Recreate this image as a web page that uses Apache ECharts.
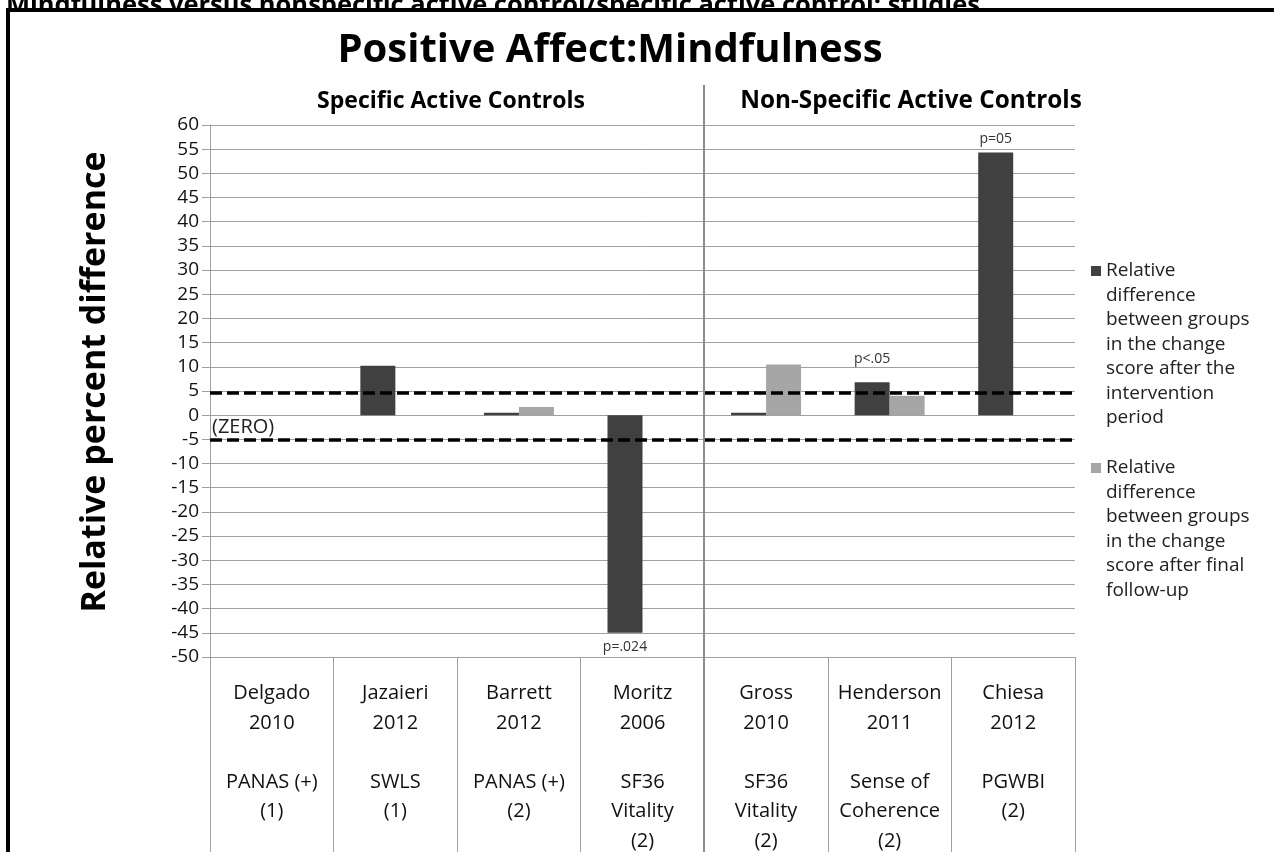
<!DOCTYPE html>
<html>
<head>
<meta charset="utf-8">
<script src="https://cdn.jsdelivr.net/npm/echarts@6/dist/echarts.min.js"></script>
<style>html,body{margin:0;padding:0;background:#fff;}#c{width:1274px;height:852px;}</style>
</head>
<body>
<div id="c"></div>
<script>
const studies = ['Delgado', 'Jazaieri', 'Barrett', 'Moritz', 'Gross', 'Henderson', 'Chiesa'];
const years = ['2010', '2012', '2012', '2006', '2010', '2011', '2012'];
const measures = ['PANAS (+)\n(1)', 'SWLS\n(1)', 'PANAS (+)\n(2)', 'SF36\nVitality\n(2)', 'SF36\nVitality\n(2)', 'Sense of\nCoherence\n(2)', 'PGWBI\n(2)'];
const afterIntervention = [null, 10.2, 0.5, -45, 0.5, 6.8, 54.3];
const afterFollowUp = [null, null, 1.7, null, 10.5, 4.0, null];
const pValues = ['', '', '', 'p=.024', '', 'p<.05', 'p=05'];
const thresholdLines = [4.6, -5];
const yMin = -50, yMax = 60, yStep = 5;
const seriesNames = [
  'Relative\ndifference\nbetween groups\nin the change\nscore after the\nintervention\nperiod',
  'Relative\ndifference\nbetween groups\nin the change\nscore after final\nfollow-up'
];
const groupHeaders = ['Specific Active Controls', 'Non-Specific Active Controls'];
const chartTitle = 'Positive Affect:Mindfulness';
const pageCaption = 'Mindfulness versus nonspecific active control/specific active control: studies';

const FONT = 'Open Sans';
const categories = studies.map((s, i) => s + '\n' + years[i] + '\n\n' + measures[i]);
const LH = 24.5;

function pLabel(i, v) {
  if (!pValues[i]) return v;
  const neg = v < 0;
  return {
    value: v,
    label: {
      show: true, formatter: pValues[i], position: neg ? 'bottom' : 'top',
      distance: pValues[i] === 'p<.05' ? 16 : 7,
      color: '#333', fontSize: 14, fontFamily: FONT
    }
  };
}

function legendFor(idx, iconY) {
  const n = seriesNames[idx].split('\n').length;
  const total = (2 * n - 1) * LH;
  return {
    orient: 'vertical', left: 1091, top: iconY - total / 2, padding: 0,
    itemWidth: 10, itemHeight: 10, icon: 'rect', selectedMode: false,
    data: [seriesNames[idx]],
    formatter: name => '\n'.repeat(n - 1) + name,
    textStyle: { fontFamily: FONT, fontSize: 19, lineHeight: LH, color: '#222' }
  };
}

const chart = echarts.init(document.getElementById('c'));
chart.setOption({
  backgroundColor: '#fff',
  animation: false,
  color: ['#404040', '#a6a6a6'],
  grid: { left: 210, right: 199, top: 125, bottom: 195, containLabel: false, outerBoundsMode: 'none' },
  legend: [legendFor(0, 271), legendFor(1, 468)],
  xAxis: {
    type: 'category', data: categories,
    axisLine: { onZero: false, lineStyle: { color: '#a0a0a0', width: 1 } },
    axisTick: { show: true, length: 200, interval: 0, lineStyle: { color: '#a0a0a0', width: 1 } },
    axisLabel: { interval: 0, margin: 22, fontFamily: FONT, fontSize: 20, lineHeight: 29.5, color: '#111', verticalAlign: 'top' }
  },
  yAxis: {
    type: 'value', min: yMin, max: yMax, interval: yStep,
    name: 'Relative percent difference', nameLocation: 'middle', nameRotate: 90, nameGap: 98,
    nameTextStyle: { fontFamily: FONT, fontSize: 34, fontWeight: 'bold', color: '#000', padding: [0, 0, 0, 18] },
    axisLine: { show: true, lineStyle: { color: '#a0a0a0' } },
    axisTick: { show: true, length: 8, lineStyle: { color: '#a0a0a0' } },
    axisLabel: { fontFamily: FONT, fontSize: 19, color: '#111', margin: 11, lineHeight: 19 },
    splitLine: { lineStyle: { color: '#a0a0a0', width: 1 } }
  },
  series: [
    {
      name: seriesNames[0], type: 'bar', barWidth: 35, barGap: '0%',
      data: afterIntervention.map((v, i) => pLabel(i, v)),
      markLine: {
        silent: true, symbol: ['none', 'none'],
        lineStyle: { color: '#000', width: 3.5, type: [12, 5] },
        data: thresholdLines.map((v, i) => ({
          yAxis: v,
          label: i === 1
            ? { show: true, formatter: '(ZERO)', position: 'insideStartTop', distance: [2, 2], fontFamily: FONT, fontSize: 20, color: '#222' }
            : { show: false }
        }))
      }
    },
    {
      name: seriesNames[1], type: 'bar', barWidth: 35, barGap: '0%',
      data: afterFollowUp
    }
  ],
  graphic: [
    { type: 'text', x: 6, y: 19, z: -20, style: { text: pageCaption, font: 'bold 25.5px "Open Sans"', fill: '#000', textVerticalAlign: 'bottom' } },
    { type: 'rect', z: -10, shape: { x: 10, y: 10, width: 1300, height: 900 }, style: { fill: '#fff' } },
    { type: 'rect', z: 100, shape: { x: 8, y: 10, width: 1300, height: 900 }, style: { fill: 'none', stroke: '#000', lineWidth: 4 } },
    { type: 'text', x: 610, y: 51, style: { text: chartTitle, font: 'bold 40px "Open Sans"', fill: '#000', textAlign: 'center', textVerticalAlign: 'middle' } },
    { type: 'text', x: 451, y: 101, style: { text: groupHeaders[0], font: 'bold 23px "Open Sans"', fill: '#000', textAlign: 'center', textVerticalAlign: 'middle' } },
    { type: 'text', x: 911, y: 101, style: { text: groupHeaders[1], font: 'bold 24.3px "Open Sans"', fill: '#000', textAlign: 'center', textVerticalAlign: 'middle' } },
    { type: 'line', z: 50, shape: { x1: 704, y1: 85, x2: 704, y2: 852 }, style: { stroke: '#8c8c8c', lineWidth: 2 } }
  ]
});
</script>
</body>
</html>
